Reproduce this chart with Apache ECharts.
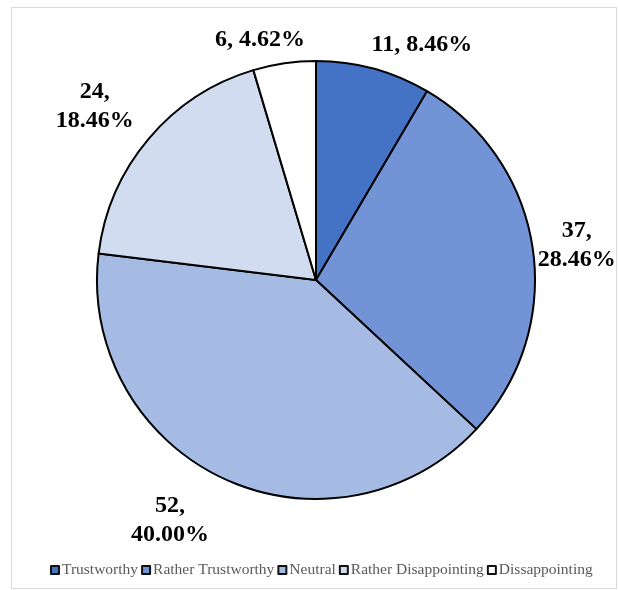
<!DOCTYPE html>
<html>
<head>
<meta charset="utf-8">
<script src="https://cdn.jsdelivr.net/npm/echarts@6/dist/echarts.min.js"></script>
<style>
  html, body { margin: 0; padding: 0; background: #fff; }
  #frame { position: absolute; left: 11px; top: 7px; width: 606px; height: 582px; border: 1px solid #d9d9d9; box-sizing: border-box; }
  #chart { position: absolute; left: 0; top: 0; width: 618px; height: 590px; }
</style>
</head>
<body>
<div id="frame"></div>
<div id="chart"></div>
<script>
// Survey answers: how each response was rated
const categories = ['Trustworthy', 'Rather Trustworthy', 'Neutral', 'Rather Disappointing', 'Dissappointing'];
const counts = [11, 37, 52, 24, 6];
const sliceColors = ['#4472C4', '#7294D6', '#A6BBE3', '#D1DCF0', '#FFFFFF'];

const total = counts.reduce((a, b) => a + b, 0);

// Pie geometry
const pieCenter = [316, 280];
const pieRadius = 219;

// Label anchors: [distance from centre, angle shift from slice middle in degrees]
const labelPolar = [
  [258, 9], [263, 0.7], [281, 6.4], [281, -2.1], [247, -4.8]
];

const chart = echarts.init(document.getElementById('chart'), null, { renderer: 'canvas' });

// mid-angle of each slice, clockwise from 12 o'clock
const midAngles = [];
{
  let acc = 0;
  counts.forEach(v => { midAngles.push((acc + v / 2) / total * 360); acc += v; });
}

chart.setOption({
  animation: false,
  legend: {
    bottom: 7,
    left: 45,
    itemWidth: 8,
    itemHeight: 8,
    itemGap: 3,
    icon: 'rect',
    textStyle: { fontFamily: 'Liberation Serif', fontSize: 15.5, color: '#595959', padding: [0, 0, 0, -2] },
    data: categories.map((c, i) => ({
      name: c,
      itemStyle: { color: sliceColors[i], borderColor: '#111', borderWidth: 2 }
    }))
  },
  series: [{
    type: 'pie',
    center: pieCenter,
    radius: pieRadius,
    startAngle: 90,
    clockwise: true,
    avoidLabelOverlap: false,
    itemStyle: { borderColor: '#000', borderWidth: 2 },
    label: {
      show: true,
      position: 'outside',
      fontFamily: 'Liberation Serif',
      fontWeight: 'bold',
      fontSize: 24,
      color: '#000',
      lineHeight: 29,
      align: 'center',
      formatter: p => {
        const pct = (p.value / total * 100).toFixed(2) + '%';
        return p.dataIndex === 0 || p.dataIndex === 4 ? p.value + ', ' + pct : p.value + ',\n' + pct;
      }
    },
    labelLine: { show: false },
    labelLayout: params => {
      const i = params.dataIndex;
      const a = (midAngles[i] + labelPolar[i][1]) * Math.PI / 180;
      const d = labelPolar[i][0];
      return {
        x: pieCenter[0] + d * Math.sin(a),
        y: pieCenter[1] - d * Math.cos(a),
        align: 'center',
        verticalAlign: 'middle'
      };
    },
    emphasis: { disabled: true },
    data: categories.map((c, i) => ({
      name: c,
      value: counts[i],
      itemStyle: { color: sliceColors[i] }
    }))
  }]
});
</script>
</body>
</html>
